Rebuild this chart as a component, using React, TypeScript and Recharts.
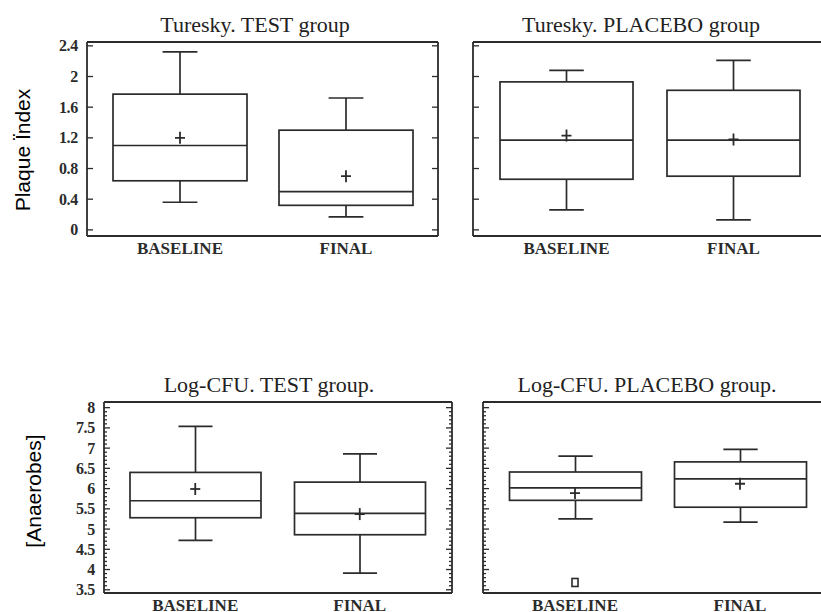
import React from 'react';
import { ComposedChart, Bar, Scatter, XAxis, YAxis, ReferenceLine } from 'recharts';

const categories = ['BASELINE', 'FINAL'];

// per category: [lower whisker, Q1, median, Q3, upper whisker]
const plaqueTestBox = [[0.36, 0.64, 1.1, 1.77, 2.32], [0.17, 0.32, 0.5, 1.3, 1.72]];
const plaqueTestMean = [1.2, 0.7];
const plaquePlaceboBox = [[0.26, 0.66, 1.17, 1.93, 2.08], [0.13, 0.7, 1.17, 1.82, 2.21]];
const plaquePlaceboMean = [1.23, 1.18];

const cfuTestBox = [[4.72, 5.28, 5.7, 6.4, 7.54], [3.91, 4.86, 5.39, 6.16, 6.86]];
const cfuTestMean = [5.99, 5.37];
const cfuPlaceboBox = [[5.25, 5.71, 6.02, 6.41, 6.8], [5.17, 5.54, 6.24, 6.66, 6.97]];
const cfuPlaceboMean = [5.89, 6.12];
const cfuPlaceboOutliers = [3.68, null];

const plaqueTicks = [0, 0.4, 0.8, 1.2, 1.6, 2, 2.4];
const cfuTicks = [3.5, 4, 4.5, 5, 5.5, 6, 6.5, 7, 7.5, 8];
// minor ticks every 0.1 on the Log-CFU axes
const cfuMinorTicks = Array.from({ length: 46 }, (_, i) => Math.round((3.5 + i * 0.1) * 10) / 10);

const INK = '#2b2b2b';
const SERIF = '"Liberation Serif", "Times New Roman", serif';
const SANS = '"Liberation Sans", Arial, sans-serif';
const Y_WIDTH = 55;
const M = 5;
const LABEL_GAP = 9;
const STROKE = 1.7;

const BoxShape = (props: any) => {
  const { x, y, width, height, payload } = props;
  const [lo, q1, med, q3, hi] = payload.stats;
  const top = Math.min(y, y + height);
  const bot = Math.max(y, y + height);
  const py = (v: number) => (hi === lo ? top : top + ((hi - v) / (hi - lo)) * (bot - top));
  const cx = x + width / 2;
  const cap = width * 0.13;
  return (
    <g stroke={INK} strokeWidth={STROKE} fill="none">
      <line x1={cx} x2={cx} y1={py(hi)} y2={py(q3)} />
      <line x1={cx} x2={cx} y1={py(q1)} y2={py(lo)} />
      <line x1={cx - cap} x2={cx + cap} y1={py(hi)} y2={py(hi)} />
      <line x1={cx - cap} x2={cx + cap} y1={py(lo)} y2={py(lo)} />
      <rect x={x} y={py(q3)} width={width} height={py(q1) - py(q3)} />
      <line x1={x} x2={x + width} y1={py(med)} y2={py(med)} />
    </g>
  );
};

const PlusShape = (props: any) => {
  const { cx, cy } = props;
  if (cx == null || cy == null || isNaN(cy)) return null;
  return (
    <g stroke={INK} strokeWidth={1.8}>
      <line x1={cx - 5} x2={cx + 5} y1={cy} y2={cy} />
      <line x1={cx} x2={cx} y1={cy - 6} y2={cy + 6} />
    </g>
  );
};

const OutlierShape = (props: any) => {
  const { cx, cy, payload } = props;
  if (payload.out == null || cy == null || isNaN(cy)) return null;
  return <rect x={cx - 3} y={cy - 4} width={6} height={8} fill="none" stroke={INK} strokeWidth={1.6} />;
};

const isMajor = (v: number, majors: number[]) => majors.some((m) => Math.abs(m - v) < 1e-6);

const LeftTick = (props: any) => {
  const { x, y, payload, majors, labels } = props;
  const major = isMajor(payload.value, majors);
  const edge = x + LABEL_GAP;
  return (
    <g>
      <line x1={edge} x2={edge + (major ? 6 : 3)} y1={y} y2={y} stroke={INK} strokeWidth={1.3} />
      {major && labels && (
        <text x={x} y={y} dy="0.35em" textAnchor="end" fontFamily={SERIF} fontWeight="bold" fontSize={16} letterSpacing={-0.3} fill={INK}>
          {payload.value}
        </text>
      )}
    </g>
  );
};

const RightTick = (props: any) => {
  const { x, y, payload, majors } = props;
  const major = isMajor(payload.value, majors);
  return <line x1={x} x2={x - (major ? 6 : 3)} y1={y} y2={y} stroke={INK} strokeWidth={1.3} />;
};

type PanelProps = {
  box: number[][];
  mean: number[];
  outliers?: (number | null)[];
  domain: [number, number];
  majors: number[];
  allTicks: number[];
  labels: boolean;
  plotLeft: number;
  plotTop: number;
  plotW: number;
  plotH: number;
  padL: number;
  padR: number;
  barSize: number;
};

const BoxPanel = (p: PanelProps) => {
  const data = categories.map((name, i) => ({
    name,
    range: [p.box[i][0], p.box[i][4]],
    stats: p.box[i],
    mean: p.mean[i],
    out: p.outliers ? p.outliers[i] : null,
  }));
  const width = p.plotW + Y_WIDTH + M + 5 + M;
  const height = p.plotH + M + 30 + M;
  return (
    <div style={{ position: 'absolute', left: p.plotLeft - Y_WIDTH - M, top: p.plotTop - M }}>
      <ComposedChart width={width} height={height} data={data} margin={{ top: M, right: M, bottom: M, left: M }}>
        <XAxis
          dataKey="name"
          padding={{ left: p.padL, right: p.padR }}
          tickLine={false}
          tickSize={0}
          tickMargin={6}
          axisLine={{ stroke: INK, strokeWidth: 1.8 }}
          tick={{ fontFamily: SERIF, fontWeight: 'bold', fontSize: 17, fill: INK }}
          height={30}
        />
        <YAxis
          type="number"
          domain={p.domain}
          ticks={p.allTicks}
          interval={0}
          allowDataOverflow
          width={Y_WIDTH}
          tickLine={false}
          tickSize={0}
          tickMargin={LABEL_GAP}
          axisLine={{ stroke: INK, strokeWidth: 1.8 }}
          tick={(t: any) => <LeftTick {...t} majors={p.majors} labels={p.labels} />}
        />
        <YAxis
          yAxisId="right"
          orientation="right"
          type="number"
          domain={p.domain}
          ticks={p.allTicks}
          interval={0}
          allowDataOverflow
          width={5}
          tickLine={false}
          tickSize={0}
          tickMargin={0}
          axisLine={{ stroke: INK, strokeWidth: 1.8 }}
          tick={(t: any) => <RightTick {...t} majors={p.majors} />}
        />
        <ReferenceLine y={p.domain[1]} stroke={INK} strokeWidth={1.8} ifOverflow="visible" />
        <Bar dataKey="range" barSize={p.barSize} shape={<BoxShape />} isAnimationActive={false} />
        <Scatter dataKey="mean" shape={<PlusShape />} isAnimationActive={false} />
        {p.outliers && <Scatter dataKey="out" shape={<OutlierShape />} isAnimationActive={false} />}
      </ComposedChart>
    </div>
  );
};

const Title = ({ text, cx, top }: { text: string; cx: number; top: number }) => (
  <div
    style={{
      position: 'absolute',
      left: cx,
      top,
      transform: 'translateX(-50%)',
      whiteSpace: 'nowrap',
      fontFamily: SERIF,
      fontSize: 22,
      lineHeight: '22px',
      color: '#222',
    }}
  >
    {text}
  </div>
);

const SideLabel = ({ text, cx, cy }: { text: string; cx: number; cy: number }) => (
  <div
    style={{
      position: 'absolute',
      left: cx,
      top: cy,
      transform: 'translate(-50%, -50%) rotate(-90deg)',
      whiteSpace: 'nowrap',
      fontFamily: SANS,
      fontSize: 21,
      lineHeight: '21px',
      color: '#000',
    }}
  >
    {text}
  </div>
);

export default function App() {
  return (
    <div style={{ position: 'absolute', left: 0, top: 0, width: 821, height: 612, overflow: 'hidden', background: '#fff' }}>
      <Title text="Turesky. TEST group" cx={255} top={14} />
      <Title text="Turesky. PLACEBO group" cx={641} top={14} />
      <Title text="Log-CFU. TEST group." cx={269} top={374} />
      <Title text="Log-CFU. PLACEBO group." cx={647} top={374} />
      <SideLabel text="Plaque Ïndex" cx={22} cy={150} />
      <SideLabel text="[Anaerobes]" cx={33} cy={491} />

      <BoxPanel box={plaqueTestBox} mean={plaqueTestMean} domain={[-0.08, 2.45]} majors={plaqueTicks} allTicks={plaqueTicks}
        labels plotLeft={87} plotTop={42} plotW={351} plotH={194} padL={10} padR={9} barSize={134} />
      <BoxPanel box={plaquePlaceboBox} mean={plaquePlaceboMean} domain={[-0.08, 2.45]} majors={plaqueTicks} allTicks={plaqueTicks}
        labels={false} plotLeft={473} plotTop={42} plotW={359} plotH={194} padL={10} padR={15} barSize={133} />
      <BoxPanel box={cfuTestBox} mean={cfuTestMean} domain={[3.42, 8.14]} majors={cfuTicks} allTicks={cfuMinorTicks}
        labels plotLeft={104} plotTop={402} plotW={348} plotH={191} padL={9} padR={10} barSize={131} />
      <BoxPanel box={cfuPlaceboBox} mean={cfuPlaceboMean} outliers={cfuPlaceboOutliers} domain={[3.42, 8.14]} majors={cfuTicks}
        allTicks={cfuMinorTicks} labels={false} plotLeft={483} plotTop={402} plotW={349} plotH={191} padL={9.5} padR={9.5} barSize={132} />
    </div>
  );
}
